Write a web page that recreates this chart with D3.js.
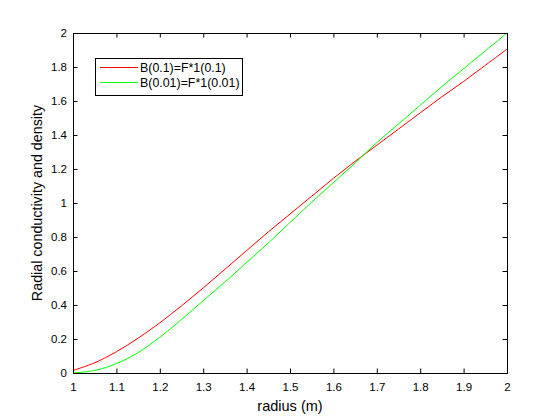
<!DOCTYPE html>
<html>
<head>
<meta charset="utf-8">
<script src="https://cdn.jsdelivr.net/npm/d3@7"></script>
<style>
  html, body { margin: 0; padding: 0; background: #fff; }
  svg { display: block; }
  text { font-family: "Liberation Sans", Arial, Helvetica, sans-serif; fill: #000; }
</style>
</head>
<body>
<svg id="chart" width="560" height="420"></svg>
<script>
// ---- data ----
const radius = [1.00, 1.05, 1.10, 1.15, 1.20, 1.25, 1.30, 1.35, 1.40, 1.45, 1.50,
                1.55, 1.60, 1.65, 1.70, 1.75, 1.80, 1.85, 1.90, 1.95, 2.00];
const seriesA = [0.015, 0.06, 0.125, 0.205, 0.295, 0.395, 0.50, 0.61, 0.72, 0.83, 0.935,
                 1.04, 1.145, 1.245, 1.34, 1.435, 1.53, 1.625, 1.715, 1.81, 1.905];
const seriesB = [0.000, 0.015, 0.055, 0.12, 0.21, 0.315, 0.425, 0.535, 0.65, 0.765, 0.885,
                 1.005, 1.12, 1.235, 1.355, 1.465, 1.575, 1.685, 1.79, 1.895, 2.00];
const seriesNames = ["B(0.1)=F*1(0.1)", "B(0.01)=F*1(0.01)"];
const seriesColors = ["#ff0000", "#00ff00"];
const xTicks = [1, 1.1, 1.2, 1.3, 1.4, 1.5, 1.6, 1.7, 1.8, 1.9, 2];
const yTicks = [0, 0.2, 0.4, 0.6, 0.8, 1, 1.2, 1.4, 1.6, 1.8, 2];
const xLabel = "radius (m)";
const yLabel = "Radial conductivity and density";

// ---- layout ----
const L = 73, R = 507, T = 33, B = 373;
const svg = d3.select("#chart");
const x = d3.scaleLinear().domain([1, 2]).range([L, R]);
const y = d3.scaleLinear().domain([0, 2]).range([B, T]);
const tickLen = 4.5;

// lines
const series = [seriesA, seriesB];
const line = d3.line().x(d => x(d[0])).y(d => y(d[1])).curve(d3.curveCatmullRom.alpha(0.5));
const plot = svg.append("g");
series.forEach((s, i) => {
  plot.append("path")
    .datum(radius.map((r, j) => [r, s[j]]))
    .attr("fill", "none")
    .attr("stroke", seriesColors[i])
    .attr("stroke-width", 1)
    .attr("d", line);
});

// axes
const fmt = d => String(+d.toFixed(1));
const xAxis = d3.axisBottom(x).tickValues(xTicks).tickFormat(fmt).tickSizeInner(-tickLen).tickSizeOuter(0).tickPadding(10);
const yAxis = d3.axisLeft(y).tickValues(yTicks).tickFormat(fmt).tickSizeInner(-tickLen).tickSizeOuter(0).tickPadding(6);
const xTop = d3.axisTop(x).tickValues(xTicks).tickFormat("").tickSizeInner(-tickLen).tickSizeOuter(0);
const yRight = d3.axisRight(y).tickValues(yTicks).tickFormat("").tickSizeInner(-tickLen).tickSizeOuter(0);

function style(g) {
  g.select(".domain").remove();
  g.selectAll("line").attr("stroke", "#000").attr("stroke-width", 1);
  g.selectAll("text").attr("font-size", 11.5).attr("fill", "#000")
    .attr("font-family", '"Liberation Sans", Arial, sans-serif');
}
svg.append("g").attr("transform", `translate(0,${B})`).call(xAxis).call(style);
svg.append("g").attr("transform", `translate(${L},0)`).call(yAxis).call(style);
svg.append("g").attr("transform", `translate(0,${T})`).call(xTop).call(style);
svg.append("g").attr("transform", `translate(${R},0)`).call(yRight).call(style);

// box
svg.append("rect").attr("x", L + 0.5).attr("y", T + 0.5)
  .attr("width", R - L).attr("height", B - T)
  .attr("fill", "none").attr("stroke", "#000").attr("stroke-width", 1);

// axis labels
svg.append("text").attr("x", (L + R) / 2).attr("y", 411)
  .attr("text-anchor", "middle").attr("font-size", 14.5).text(xLabel);
svg.append("text").attr("transform", `translate(42,${(T + B) / 2}) rotate(-90)`)
  .attr("text-anchor", "middle").attr("font-size", 14.3).text(yLabel);

// legend
const lg = svg.append("g");
lg.append("rect").attr("x", 95.5).attr("y", 58.5).attr("width", 147).attr("height", 37)
  .attr("fill", "#fff").attr("stroke", "#000").attr("stroke-width", 1);
seriesNames.forEach((name, i) => {
  const yy = 67.5 + i * 15;
  lg.append("line").attr("x1", 100).attr("x2", 138).attr("y1", yy).attr("y2", yy)
    .attr("stroke", seriesColors[i]).attr("stroke-width", 1);
  lg.append("text").attr("x", 140).attr("y", yy).attr("dy", "0.35em")
    .attr("font-size", 12.4).text(name);
});
</script>
</body>
</html>
